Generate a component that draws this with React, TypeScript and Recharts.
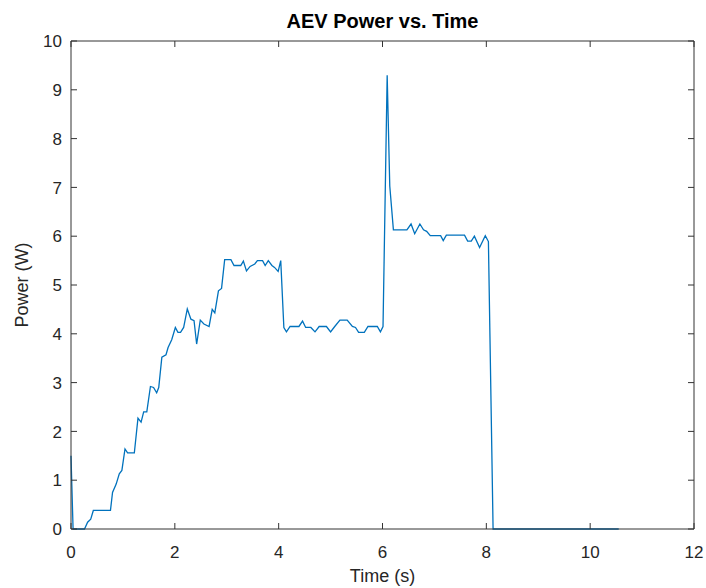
import React from "react";
import { LineChart, Line, XAxis, YAxis, ReferenceLine } from "recharts";

// AEV power trace
const time = [
  0, 0.04, 0.26, 0.32, 0.38, 0.43, 0.76, 0.8, 0.87, 0.93,
  0.98, 1.04, 1.09, 1.22, 1.29, 1.35, 1.4, 1.46, 1.53, 1.59,
  1.65, 1.69, 1.75, 1.83, 1.87, 1.94, 2.01, 2.06, 2.11, 2.17,
  2.24, 2.31, 2.37, 2.42, 2.49, 2.56, 2.66, 2.72, 2.77, 2.84,
  2.9, 2.96, 3.08, 3.14, 3.27, 3.32, 3.38, 3.45, 3.54, 3.59,
  3.69, 3.74, 3.8, 3.87, 3.92, 3.99, 4.04, 4.1, 4.15, 4.22,
  4.39, 4.46, 4.52, 4.62, 4.7, 4.78, 4.92, 5.0, 5.08, 5.18,
  5.32, 5.42, 5.48, 5.54, 5.65, 5.72, 5.9, 5.96, 6.01, 6.09,
  6.14, 6.21, 6.47, 6.55, 6.62, 6.72, 6.79, 6.85, 6.92, 7.12,
  7.17, 7.23, 7.58, 7.64, 7.71, 7.77, 7.87, 7.98, 8.04, 8.13,
  10.55,
];

const power = [
  1.5, 0, 0, 0.14, 0.2, 0.38, 0.38, 0.75, 0.92, 1.13,
  1.2, 1.64, 1.56, 1.56, 2.27, 2.19, 2.4, 2.4, 2.92, 2.9,
  2.79, 2.9, 3.52, 3.57, 3.72, 3.88, 4.13, 4.03, 4.03, 4.13,
  4.51, 4.3, 4.27, 3.79, 4.28, 4.2, 4.15, 4.5, 4.43, 4.88,
  4.93, 5.52, 5.52, 5.4, 5.4, 5.49, 5.29, 5.38, 5.43, 5.5,
  5.5, 5.4, 5.5, 5.4, 5.36, 5.28, 5.5, 4.13, 4.04, 4.15,
  4.15, 4.26, 4.13, 4.13, 4.04, 4.15, 4.15, 4.04, 4.15, 4.28,
  4.28, 4.15, 4.13, 4.03, 4.03, 4.15, 4.15, 4.04, 4.15, 9.3,
  7.03, 6.13, 6.13, 6.25, 6.05, 6.25, 6.13, 6.1, 6.01, 6.01,
  5.91, 6.02, 6.02, 5.9, 5.9, 6.0, 5.77, 6.01, 5.89, 0,
  0,
];

const xTicks = [0, 2, 4, 6, 8, 10, 12];
const yTicks = [0, 1, 2, 3, 4, 5, 6, 7, 8, 9, 10];

const data = time.map((t, i) => ({ t, p: power[i] }));

// layout (MATLAB-style boxed axes)
const W = 706, H = 588;
const M_TOP = 41, M_RIGHT = 12, X_AXIS_H = 59, Y_AXIS_W = 71;
const PLOT_W = W - Y_AXIS_W - M_RIGHT;
const PLOT_H = H - M_TOP - X_AXIS_H;
const TICK = 6;

const FONT = "'Liberation Sans', Arial, Helvetica, sans-serif";
const INK = "#262626";
const FRAME = "#333";

if (typeof document !== "undefined") document.body.style.margin = "0";

// inward ticks on bottom + top, label below
function XTick({ x, y, payload }: any) {
  return (
    <g>
      <line x1={x} y1={y} x2={x} y2={y - TICK} stroke={FRAME} />
      <line x1={x} y1={y - PLOT_H} x2={x} y2={y - PLOT_H + TICK} stroke={FRAME} />
      <text x={x} y={y + 29} textAnchor="middle" fontSize={17} fill={INK} fontFamily={FONT}>
        {payload.value}
      </text>
    </g>
  );
}

// inward ticks on left + right, label to the left
function YTick({ x, y, payload }: any) {
  return (
    <g>
      <line x1={x} y1={y} x2={x + TICK} y2={y} stroke={FRAME} />
      <line x1={x + PLOT_W} y1={y} x2={x + PLOT_W - TICK} y2={y} stroke={FRAME} />
      <text x={x - 9} y={y} dy="0.36em" textAnchor="end" fontSize={17} fill={INK} fontFamily={FONT}>
        {payload.value}
      </text>
    </g>
  );
}

export default function App() {
  return (
    <div style={{ position: "relative", width: W, height: H, background: "#fff", fontFamily: FONT }}>
      <div style={{ position: "absolute", left: Y_AXIS_W, width: PLOT_W, top: 10, textAlign: "center", fontWeight: "bold", fontSize: 20, color: "#000" }}>
        AEV Power vs. Time
      </div>
      <div style={{ position: "absolute", left: Y_AXIS_W, width: PLOT_W, top: 566, textAlign: "center", fontSize: 18, color: INK }}>
        Time (s)
      </div>
      <div
        style={{
          position: "absolute", left: 22, top: M_TOP + PLOT_H / 2, fontSize: 18, color: INK, whiteSpace: "nowrap",
          transform: "translate(-50%, -50%) rotate(-90deg)",
        }}
      >
        Power (W)
      </div>

      <LineChart width={W} height={H} data={data} margin={{ top: M_TOP, right: M_RIGHT, bottom: 0, left: 0 }}>
        <XAxis
          dataKey="t" type="number" domain={[0, 12]} ticks={xTicks} height={X_AXIS_H}
          axisLine={{ stroke: FRAME }} tickLine={false} tickSize={0} tickMargin={0} tick={<XTick />}
        />
        <YAxis
          type="number" domain={[0, 10]} ticks={yTicks} width={Y_AXIS_W}
          axisLine={{ stroke: FRAME }} tickLine={false} tickSize={0} tickMargin={0} tick={<YTick />}
        />
        <ReferenceLine y={10} stroke={FRAME} />
        <ReferenceLine x={12} stroke={FRAME} />
        <Line
          type="linear" dataKey="p" stroke="#0072BD" strokeWidth={1.3}
          dot={false} activeDot={false} isAnimationActive={false}
        />
      </LineChart>
    </div>
  );
}
